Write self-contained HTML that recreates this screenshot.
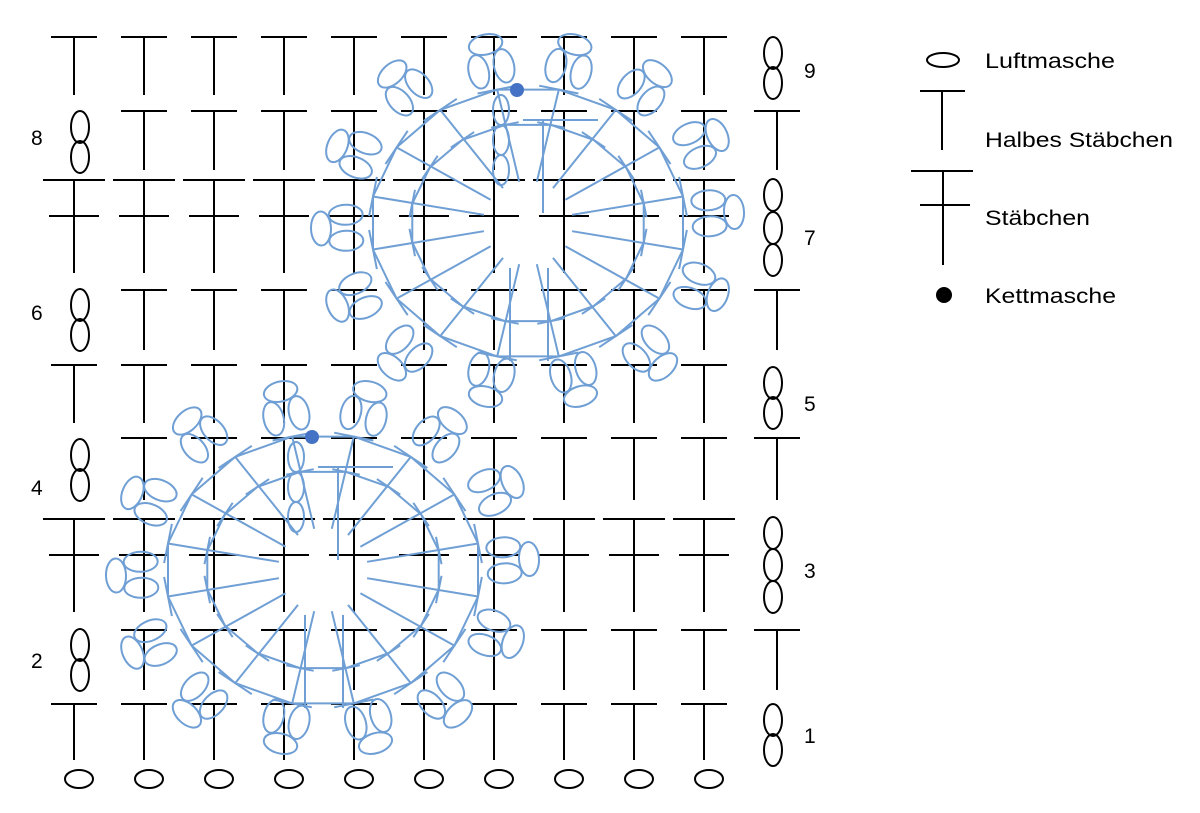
<!DOCTYPE html>
<html><head><meta charset="utf-8"><style>
html,body{margin:0;padding:0;background:#fff;}
svg{display:block;}
text{font-family:"Liberation Sans",sans-serif;font-size:21px;fill:#000;}
</style></head><body>
<svg id="s" width="1200" height="813" viewBox="0 0 1200 813" xmlns="http://www.w3.org/2000/svg">
<g id="blk" stroke="#000" stroke-width="2" fill="none"></g>
<g id="blu" stroke="#6f9fd4" stroke-width="2" fill="none"></g>
<g id="txt">
<text x="804" y="78">9</text>
<text x="804" y="245">7</text>
<text x="804" y="411">5</text>
<text x="804" y="578">3</text>
<text x="804" y="743">1</text>
<text x="31" y="145">8</text>
<text x="31" y="320">6</text>
<text x="31" y="495">4</text>
<text x="31" y="668">2</text>
<text x="985" y="68" textLength="130" lengthAdjust="spacingAndGlyphs">Luftmasche</text>
<text x="985" y="147" textLength="188" lengthAdjust="spacingAndGlyphs">Halbes Stäbchen</text>
<text x="985" y="225" textLength="105" lengthAdjust="spacingAndGlyphs">Stäbchen</text>
<text x="985" y="303" textLength="131" lengthAdjust="spacingAndGlyphs">Kettmasche</text>
</g>
</svg>
<script>
var NS="http://www.w3.org/2000/svg";
function el(g,t,a){var e=document.createElementNS(NS,t);for(var k in a)e.setAttribute(k,a[k]);g.appendChild(e);return e;}
var B=document.getElementById('blk'),U=document.getElementById('blu'),S=document.getElementById('s');
function L(g,x1,y1,x2,y2){el(g,'line',{x1:x1,y1:y1,x2:x2,y2:y2});}
function hdc(x,top,bot){L(B,x-23,top,x+23,top);L(B,x,top,x,bot);}
function dc(x,top,cr,bot){L(B,x-31,top,x+31,top);L(B,x-25,cr,x+25,cr);L(B,x,top,x,bot);}
function vo(x,y){el(B,'ellipse',{cx:x,cy:y,rx:9,ry:16});}
var rows=[
 [1,704,760,0],[2,630,690,0],[3,519,612,555],[4,438,500,0],[5,365,423,0],
 [6,290,350,0],[7,180,273,216],[8,111,170,0],[9,37,95,0]];
var chains={1:[720,750],3:[533,565,597],5:[383,413],7:[195,228,260],9:[53,83],2:[645,675],4:[455,485],6:[305,335],8:[127,157]};
rows.forEach(function(r){
 var n=r[0],xs=[];
 if(n%2){for(var i=0;i<10;i++)xs.push(74+70*i);chains[n].forEach(function(y){vo(773,y);});}
 else{for(var i=1;i<10;i++)xs.push(74+70*i);xs.push(777);chains[n].forEach(function(y){vo(80,y);});}
 xs.forEach(function(x){ if(r[3])dc(x,r[1],r[3],r[2]); else hdc(x,r[1],r[2]);});
});
for(var i=0;i<10;i++)el(B,'ellipse',{cx:79+70*i,cy:779,rx:14,ry:9});
el(B,'ellipse',{cx:943,cy:60,rx:16,ry:7});
L(B,920,91,965,91);L(B,942,91,942,150);
L(B,911,171,973,171);L(B,920,205,970,205);L(B,943,171,943,265);
el(S,'circle',{cx:944,cy:295,r:8,fill:'#000'});
var pic=[[285,410],[365,410],[440,435],[495,490],[510,560],[495,635],[445,700],[370,725],[285,725],[200,700],[150,645],[135,575],[150,500],[200,435]];
function oval(cx,cy,ang,rx,ry){el(U,'ellipse',{cx:cx.toFixed(1),cy:cy.toFixed(1),rx:rx,ry:ry,transform:'rotate('+(ang*180/Math.PI).toFixed(1)+' '+cx.toFixed(1)+' '+cy.toFixed(1)+')'});}
function motif(cx,cy,dx,dy){
 var n=16,outer=[],inner=[];
 for(var k=0;k<n;k++){
  var a=(k+0.5)/n*2*Math.PI-Math.PI/2;
  var c=Math.cos(a),s=Math.sin(a);
  var r0x=45,r0y=42,r1x=158,r1y=136,rix=118,riy=100;
  var x0=cx+r0x*c,y0=cy+r0y*s,x1=cx+r1x*c,y1=cy+r1y*s;
  L(U,x0.toFixed(1),y0.toFixed(1),x1.toFixed(1),y1.toFixed(1));
  var xi=cx+rix*c,yi=cy+riy*s;
  L(U,(xi-14*s).toFixed(1),(yi+14*c).toFixed(1),(xi+14*s).toFixed(1),(yi-14*c).toFixed(1));
  L(U,(x1-20*s).toFixed(1),(y1+20*c).toFixed(1),(x1+20*s).toFixed(1),(y1-20*c).toFixed(1));
  outer.push([x1,y1]);inner.push([xi,yi]);
 }
 el(U,'polygon',{points:outer.map(function(p){return p[0].toFixed(1)+','+p[1].toFixed(1);}).join(' ')});
 el(U,'polygon',{points:inner.map(function(p){return p[0].toFixed(1)+','+p[1].toFixed(1);}).join(' ')});
 [457,487,517].forEach(function(y){el(U,'ellipse',{cx:cx-27,cy:y+dy,rx:8,ry:15});});
 L(U,cx-18,cy+45,cx-18,cy+138);L(U,cx+20,cy+45,cx+20,cy+138);
 L(U,cx+15,cy-103,cx+15,cy-10);L(U,cx-5,cy-103,cx+70,cy-103);
 pic.forEach(function(p){
  var px=p[0]+dx,py=p[1]+dy;
  var ux=px-cx,uy=py-cy,m=Math.hypot(ux,uy);ux/=m;uy/=m;var vx=-uy,vy=ux;
  var a=Math.atan2(uy,ux);
  oval(px-6*ux+13*vx,py-6*uy+13*vy,a,17,10);
  oval(px-6*ux-13*vx,py-6*uy-13*vy,a,17,10);
  oval(px+19*ux,py+19*uy,a+Math.PI/2,17,10);
 });
 el(S,'circle',{cx:cx-11,cy:cy-133,r:7,fill:'#4472c4'});
}
motif(323,570,0,0);
motif(528,223,205,-347);
</script>
</body></html>
